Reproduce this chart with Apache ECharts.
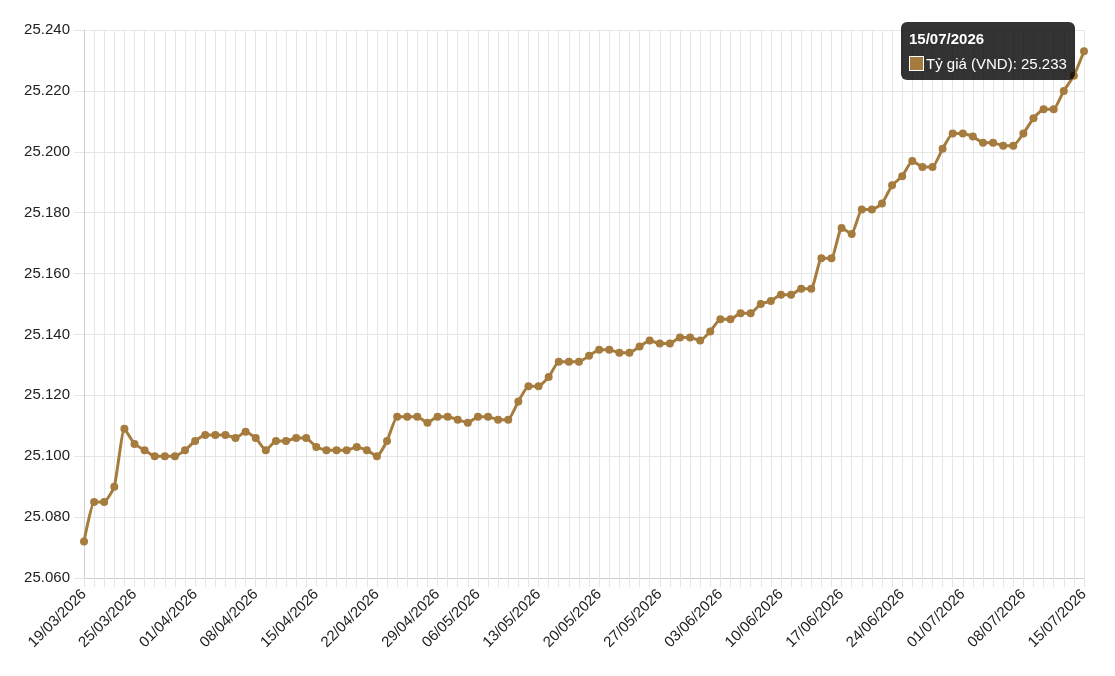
<!DOCTYPE html>
<html>
<head>
<meta charset="utf-8">
<title>Tỷ giá (VND)</title>
<script src="https://cdn.jsdelivr.net/npm/echarts@6.0.0/dist/echarts.min.js"></script>
<style>
  html, body { margin: 0; padding: 0; background: #fff; }
  #chart { width: 1115px; height: 676px; }
</style>
</head>
<body>
<div id="chart"></div>
<script>
// ngày giao dịch (không có chủ nhật và 30/04, 01/05)
const dates = [
  "19/03/2026","20/03/2026","21/03/2026","23/03/2026","24/03/2026","25/03/2026","26/03/2026","27/03/2026","28/03/2026","30/03/2026","31/03/2026",
  "01/04/2026","02/04/2026","03/04/2026","04/04/2026","06/04/2026","07/04/2026","08/04/2026","09/04/2026","10/04/2026","11/04/2026","13/04/2026","14/04/2026","15/04/2026","16/04/2026","17/04/2026","18/04/2026","20/04/2026","21/04/2026","22/04/2026","23/04/2026","24/04/2026","25/04/2026","27/04/2026","28/04/2026","29/04/2026",
  "02/05/2026","04/05/2026","05/05/2026","06/05/2026","07/05/2026","08/05/2026","09/05/2026","11/05/2026","12/05/2026","13/05/2026","14/05/2026","15/05/2026","16/05/2026","18/05/2026","19/05/2026","20/05/2026","21/05/2026","22/05/2026","23/05/2026","25/05/2026","26/05/2026","27/05/2026","28/05/2026","29/05/2026","30/05/2026",
  "01/06/2026","02/06/2026","03/06/2026","04/06/2026","05/06/2026","06/06/2026","08/06/2026","09/06/2026","10/06/2026","11/06/2026","12/06/2026","13/06/2026","15/06/2026","16/06/2026","17/06/2026","18/06/2026","19/06/2026","20/06/2026","22/06/2026","23/06/2026","24/06/2026","25/06/2026","26/06/2026","27/06/2026","29/06/2026","30/06/2026",
  "01/07/2026","02/07/2026","03/07/2026","04/07/2026","06/07/2026","07/07/2026","08/07/2026","09/07/2026","10/07/2026","11/07/2026","13/07/2026","14/07/2026","15/07/2026"
];

// tỷ giá (VND)
const rates = [
  25072, 25085, 25085, 25090, 25109, 25104, 25102, 25100, 25100, 25100,
  25102, 25105, 25107, 25107, 25107, 25106, 25108, 25106, 25102, 25105,
  25105, 25106, 25106, 25103, 25102, 25102, 25102, 25103, 25102, 25100,
  25105, 25113, 25113, 25113, 25111, 25113, 25113, 25112, 25111, 25113,
  25113, 25112, 25112, 25118, 25123, 25123, 25126, 25131, 25131, 25131,
  25133, 25135, 25135, 25134, 25134, 25136, 25138, 25137, 25137, 25139,
  25139, 25138, 25141, 25145, 25145, 25147, 25147, 25150, 25151, 25153,
  25153, 25155, 25155, 25165, 25165, 25175, 25173, 25181, 25181, 25183,
  25189, 25192, 25197, 25195, 25195, 25201, 25206, 25206, 25205, 25203,
  25203, 25202, 25202, 25206, 25211, 25214, 25214, 25220, 25225, 25233
];

// các nhãn hiện trên trục x
const tickLabels = [
  "19/03/2026","25/03/2026","01/04/2026","08/04/2026","15/04/2026","22/04/2026",
  "29/04/2026","06/05/2026","13/05/2026","20/05/2026","27/05/2026","03/06/2026",
  "10/06/2026","17/06/2026","24/06/2026","01/07/2026","08/07/2026","15/07/2026"
];

const seriesName = "Tỷ giá (VND)";
const lineColor = "#a67c3e";
const font = "'Liberation Sans', Arial, sans-serif";

// 25240 -> "25.240"
const fmt = (v) => String(v).replace(/\B(?=(\d{3})+(?!\d))/g, ".");

const mychart = echarts.init(document.getElementById("chart"));

const option = {
  animation: false,
  grid: { left: 84, right: 31, top: 30, bottom: 98 },
  tooltip: {
    trigger: "item",
    alwaysShowContent: true,
    transitionDuration: 0,
    backgroundColor: "rgba(0,0,0,0.8)",
    borderWidth: 0,
    padding: [7, 8],
    extraCssText: "box-shadow:none;border-radius:6px;",
    position: () => [901, 22],
    formatter: (p) =>
      '<div style="font-family:' + font + ';color:#fff;font-size:15px;line-height:19px;">' +
      '<div style="font-weight:bold;margin-bottom:6px;">' + p.name + "</div>" +
      '<div style="display:flex;align-items:center;">' +
      '<span style="display:inline-block;width:13px;height:13px;background:' + lineColor +
      ';border:1px solid #fff;margin-right:2px;"></span>' +
      seriesName + ": " + fmt(p.value) + "</div></div>",
  },
  xAxis: {
    type: "category",
    data: dates,
    boundaryGap: false,
    axisLine: { lineStyle: { color: "#cfcfcf", width: 1 } },
    axisTick: { show: true, interval: 0, length: 9, lineStyle: { color: "#e6e6e6" } },
    splitLine: { show: true, interval: 0, lineStyle: { color: "#e6e6e6" } },
    axisLabel: {
      interval: (i, v) => tickLabels.indexOf(v) !== -1,
      rotate: 45,
      margin: 14,
      color: "#222",
      fontSize: 15,
      fontFamily: font,
    },
  },
  yAxis: {
    type: "value",
    min: 25060,
    max: 25240,
    interval: 20,
    axisLine: { show: true, lineStyle: { color: "#cfcfcf", width: 1 } },
    axisTick: { show: true, length: 10, lineStyle: { color: "#e6e6e6" } },
    splitLine: { lineStyle: { color: "#e6e6e6" } },
    axisLabel: {
      formatter: fmt,
      margin: 14,
      color: "#222",
      fontSize: 15,
      fontFamily: font,
    },
  },
  series: [
    {
      name: seriesName,
      type: "line",
      data: rates,
      smooth: 0.15,
      symbol: "circle",
      symbolSize: 8,
      showAllSymbol: true,
      lineStyle: { color: lineColor, width: 3 },
      itemStyle: { color: lineColor },
      emphasis: { scale: false, lineStyle: { width: 3 } },
    },
  ],
};

mychart.setOption(option);
// hiện tooltip ở điểm cuối
mychart.dispatchAction({ type: "showTip", seriesIndex: 0, dataIndex: rates.length - 1 });
</script>
</body>
</html>
